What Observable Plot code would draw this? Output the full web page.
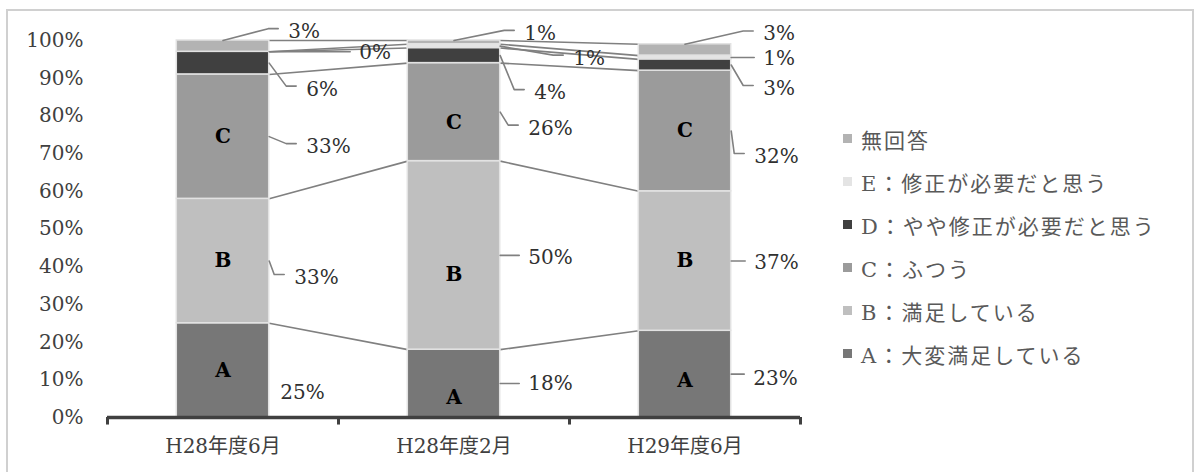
<!DOCTYPE html>
<html>
<head>
<meta charset="utf-8">
<script src="https://cdn.jsdelivr.net/npm/d3@7"></script>
<script src="https://cdn.jsdelivr.net/npm/@observablehq/plot@0.6"></script>
<style>
  html, body { margin: 0; padding: 0; background: #fff; }
  #wrap { position: relative; width: 1202px; height: 472px; overflow: hidden; background: #fff; }
  #frame { position: absolute; left: 6px; top: 9px; width: 1184px; height: 500px;
           border: 2px solid #d0d0d0; pointer-events: none; }
  #legend { position: absolute; left: 843px; top: 117px;
            font-family: 'DejaVu Serif', 'Noto Sans CJK JP', serif; font-size: 21px;
            letter-spacing: 2px; color: #595959; }
  #legend .item { display: flex; align-items: center; height: 43px; white-space: nowrap; }
  #legend .sw { width: 9px; height: 9px; margin-right: 9px; flex: none; }
</style>
</head>
<body>
<div id="wrap"><div id="frame"></div><div id="legend"></div></div>
<script>
// Survey periods (x categories)
const periods = ["H28年度6月", "H28年度2月", "H29年度6月"];

// Response categories, stacked bottom to top
const seriesKeys = ["A", "B", "C", "D", "E", "N"];
const seriesNames = [
  "A：大変満足している",
  "B：満足している",
  "C：ふつう",
  "D：やや修正が必要だと思う",
  "E：修正が必要だと思う",
  "無回答"
];

// Share of responses (%) per period
const valuesA = [25, 18, 23];
const valuesB = [33, 50, 37];
const valuesC = [33, 26, 32];
const valuesD = [6, 4, 3];
const valuesE = [0, 1, 1];
const valuesNA = [3, 1, 3];

// Y axis tick values (%)
const yTicks = [0, 10, 20, 30, 40, 50, 60, 70, 80, 90, 100];

// Letters printed inside the bars
const barLetters = ["A", "B", "C"];

// Fill colours per category
const colors = ["#777777", "#bfbfbf", "#9b9b9b", "#404040", "#e4e4e4", "#b3b3b3"];

// ---- layout ----
const W = 1202, H = 472, ML = 107, MR = 402, MT = 40, MB = 55;
const half = 0.2;                           // half bar width, in category steps
const xPx = (W - ML - MR) / periods.length; // pixels per category step
const yPx = (H - MT - MB) / 100;            // pixels per percent

// Data-label placement: [dx, dy, leader] in px, relative to the segment's
// right edge and vertical centre. leader: null | "straight" | "elbow" | "top"
const labelLayout = [
  { A: [11, 22, null], B: [25, 16.5, "elbow"], C: [37, 10, "elbow"], D: [37, 26, "elbow"], E: [90, 1, "straight"], N: [19, -14.5, "top"] },
  { A: [28, 0, "straight"], B: [28, 2, "straight"], C: [28, 16, "elbow"], D: [34, 37, "elbow"], E: [73, 12, "elbow"], N: [24, -9, "top"] },
  { A: [22, 4, "straight"], B: [23, 1.5, "straight"], C: [23, 25.5, "elbow"], D: [32, 23.5, "elbow"], E: [32, 1, "straight"], N: [32, -16, "top"] }
];
// Vertical nudges (px) for the in-bar letters
const letterNudge = [{}, { A: 14, B: 19, C: 10 }, { A: 6 }];

// ---- build the stacked rows ----
const valueTable = { A: valuesA, B: valuesB, C: valuesC, D: valuesD, E: valuesE, N: valuesNA };
const rows = [];
periods.forEach((p, i) => {
  let cum = 0;
  seriesKeys.forEach((k, j) => {
    const v = valueTable[k][i];
    rows.push({ i, period: p, key: k, series: seriesNames[j], value: v, y1: cum, y2: cum + v, mid: cum + v / 2 });
    cum += v;
  });
});
const row = (i, k) => rows.find(d => d.i === i && d.key === k);

// Series lines joining the tops of matching segments in neighbouring bars
const seriesLinks = [];
for (let i = 0; i < periods.length - 1; i++) {
  seriesKeys.forEach(k => {
    seriesLinks.push({ x1: i + half, y1: row(i, k).y2, x2: i + 1 - half, y2: row(i + 1, k).y2 });
  });
}

// Data labels and their leader lines
const labels = [];
const leaders = [];
rows.forEach(d => {
  const [dx, dy, kind] = labelLayout[d.i][d.key];
  const ax = d.i + half, ay = d.mid;
  const lx = ax + dx / xPx, ly = ay - dy / yPx;
  labels.push({ x: lx, y: ly, text: d.value + "%" });
  const id = d.i + d.key;
  if (kind === "straight") {
    leaders.push({ id, x: ax, y: ay }, { id, x: lx - 9 / xPx, y: ay });
  } else if (kind === "elbow" || kind === "top") {
    const sx = kind === "top" ? d.i : ax;
    const sy = kind === "top" ? d.y2 : ay;
    leaders.push(
      { id, x: sx, y: sy },
      { id, x: lx - 20 / xPx, y: ly + 3 / yPx },
      { id, x: lx - 10 / xPx, y: ly + 3 / yPx }
    );
  }
});

// In-bar letters
const letters = rows
  .filter(d => barLetters.includes(d.key))
  .map(d => ({ x: d.i, y: d.mid - (letterNudge[d.i][d.key] || 0) / yPx, text: d.key }));

const chart = Plot.plot({
  width: W, height: H,
  marginLeft: ML, marginRight: MR, marginTop: MT, marginBottom: MB,
  x: { domain: [-0.5, periods.length - 0.5], axis: null },
  y: { domain: [0, 100], axis: null },
  color: { domain: seriesNames, range: colors },
  style: {
    fontFamily: "'DejaVu Serif', 'Noto Sans CJK JP', serif",
    fontSize: "20px",
    color: "#404040",
    background: "transparent",
    overflow: "visible"
  },
  marks: [
    // series lines
    Plot.link(seriesLinks, { x1: "x1", y1: "y1", x2: "x2", y2: "y2", stroke: "#808080", strokeWidth: 1.6 }),
    // stacked bars
    Plot.rect(rows, {
      x1: d => d.i - half, x2: d => d.i + half, y1: "y1", y2: "y2",
      fill: "series", stroke: "#e2e2e2", strokeWidth: 1.5
    }),
    // category axis line and ticks
    Plot.ruleY([0], { stroke: "#404040", strokeWidth: 3.5 }),
    Plot.ruleX(d3.range(-0.5, periods.length, 1), { y1: 0, y2: -2, stroke: "#404040", strokeWidth: 3 }),
    // y tick labels
    Plot.text(yTicks, { x: -0.5, y: d => d, text: d => d + "%", textAnchor: "end", dx: -24, fill: "#404040" }),
    // x tick labels
    Plot.text(periods, { x: (d, i) => i, y: 0, dy: 29, text: d => d, fill: "#404040" }),
    // leader lines
    Plot.line(leaders, { x: "x", y: "y", z: "id", stroke: "#808080", strokeWidth: 1.6 }),
    // value labels
    Plot.text(labels, { x: "x", y: "y", text: "text", textAnchor: "start", fill: "#303030" }),
    // letters inside bars
    Plot.text(letters, { x: "x", y: "y", text: "text", fontWeight: "bold", fill: "#000" })
  ]
});

const wrap = document.getElementById("wrap");
wrap.insertBefore(chart, wrap.firstChild);

// Legend, listed top to bottom in stack order reversed
const colorScale = chart.scale("color");
const legend = d3.select("#legend");
colorScale.domain.slice().reverse().forEach(name => {
  const idx = colorScale.domain.indexOf(name);
  const item = legend.append("div").attr("class", "item");
  item.append("div").attr("class", "sw").style("background", colorScale.range[idx]);
  item.append("span").text(name);
});
</script>
</body>
</html>
